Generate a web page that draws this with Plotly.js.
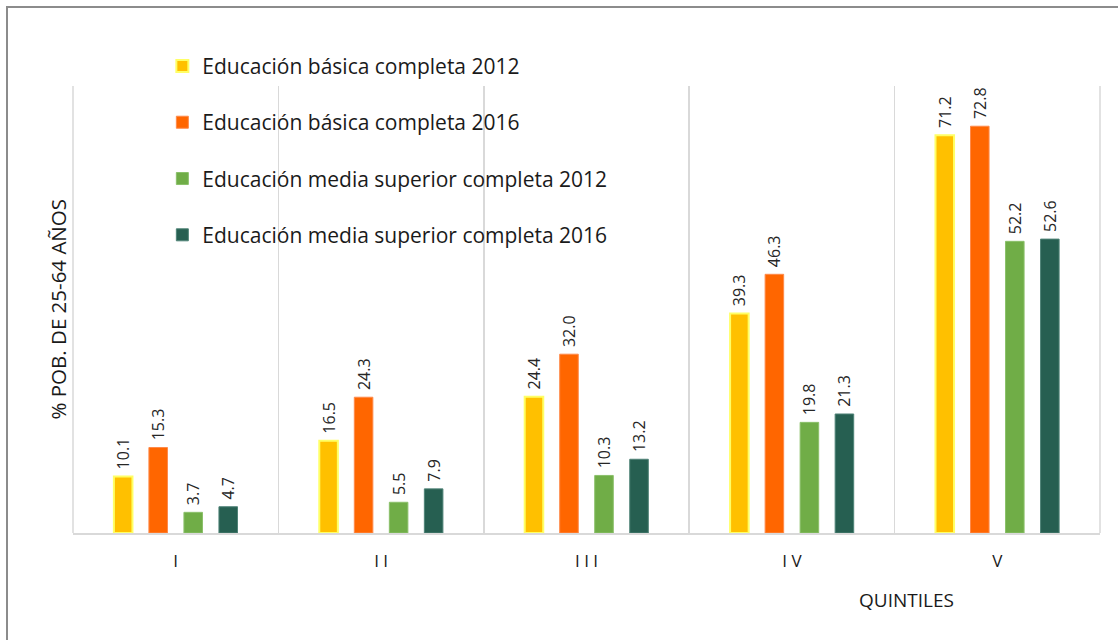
<!DOCTYPE html>
<html>
<head>
<meta charset="utf-8">
<script src="https://cdn.plot.ly/plotly-3.0.1.min.js"></script>
<style>
html,body{margin:0;padding:0;background:#fff;}
#wrap{position:relative;width:1118px;height:640px;overflow:hidden;}
#chart{position:absolute;left:0;top:0;width:1118px;height:640px;}
#frame{position:absolute;left:6px;top:6px;width:1200px;height:700px;border:2px solid #8c8c8c;pointer-events:none;}
</style>
</head>
<body>
<div id="wrap"><div id="chart"></div><div id="frame"></div></div>
<script>
const categories = ["I", "I I", "I I I", "I V", "V"];
const seriesNames = [
  "Educación básica completa 2012",
  "Educación básica completa 2016",
  "Educación media superior completa 2012",
  "Educación media superior completa 2016"
];
const basica2012 = [10.1, 16.5, 24.4, 39.3, 71.2];
const basica2016 = [15.3, 24.3, 32.0, 46.3, 72.8];
const media2012 = [3.7, 5.5, 10.3, 19.8, 52.2];
const media2016 = [4.7, 7.9, 13.2, 21.3, 52.6];

const fills = ["#FFC000", "#FF6600", "#70AD47", "#265F51"];
const outlines = ["#FFFF66", "#FF8A4A", "#8BC06A", "#4F8377"];
const allValues = [basica2012, basica2016, media2012, media2016];

const font = "'Open Sans', 'Noto Sans', sans-serif";

const traces = allValues.map((vals, i) => ({
  type: "bar",
  name: seriesNames[i],
  x: categories,
  y: vals,
  legendgroup: "g" + i,
  marker: {color: fills[i], line: {color: outlines[i], width: i === 0 ? 2 : 1}},
  text: vals.map(v => "\u00a0" + v.toFixed(1)),
  textposition: "outside",
  textangle: -90,
  constraintext: "none",
  cliponaxis: false,
  textfont: {family: font, size: 16, color: "#262626"},
  hoverinfo: "skip"
}));

const gridColor = "#D9D9D9";

const layout = {
  width: 1118,
  height: 640,
  margin: {l: 73, r: 18, t: 86, b: 107},
  paper_bgcolor: "#ffffff",
  plot_bgcolor: "#ffffff",
  barmode: "group",
  bargap: 0.318,
  bargroupgap: 0.47,
  font: {family: font, color: "#262626"},
  showlegend: true,
  legend: {
    x: 0.087, y: 1.09, xanchor: "left", yanchor: "top",
    bgcolor: "rgba(0,0,0,0)",
    font: {family: font, size: 21, color: "#1a1a1a"},
    traceorder: "grouped",
    tracegroupgap: 26
  },
  xaxis: {
    type: "category",
    tickson: "boundaries",
    showgrid: true,
    gridcolor: gridColor,
    gridwidth: 1.5,
    showline: true,
    linecolor: gridColor,
    linewidth: 1.5,
    ticks: "",
    ticklen: 0,
    tickfont: {family: font, size: 17, color: "#1a1a1a"},
    ticklabelstandoff: 12,
    zeroline: false,
    fixedrange: true
  },
  yaxis: {
    range: [0, 80],
    showgrid: false,
    showticklabels: false,
    showline: false,
    zeroline: false,
    ticks: "",
    fixedrange: true
  },
  shapes: [
    {type: "line", xref: "paper", yref: "paper", x0: 0, x1: 0, y0: 0, y1: 1, line: {color: gridColor, width: 1.5}, layer: "below"},
    {type: "line", xref: "paper", yref: "paper", x0: 1, x1: 1, y0: 0, y1: 1, line: {color: gridColor, width: 1.5}, layer: "below"}
  ],
  annotations: [
    {
      text: "% POB. DE 25-64 AÑOS",
      xref: "paper", yref: "paper",
      x: -16/1027, y: 0.5,
      xanchor: "center", yanchor: "middle",
      textangle: -90, showarrow: false,
      font: {family: font, size: 20.5, color: "#1a1a1a"}
    },
    {
      text: "QUINTILES",
      xref: "paper", yref: "paper",
      x: (906-73)/1027, y: -(600-533)/447,
      xanchor: "center", yanchor: "middle",
      showarrow: false,
      font: {family: font, size: 19, color: "#1a1a1a"}
    }
  ]
};

Plotly.newPlot("chart", traces, layout, {displayModeBar: false, staticPlot: true});
</script>
</body>
</html>
